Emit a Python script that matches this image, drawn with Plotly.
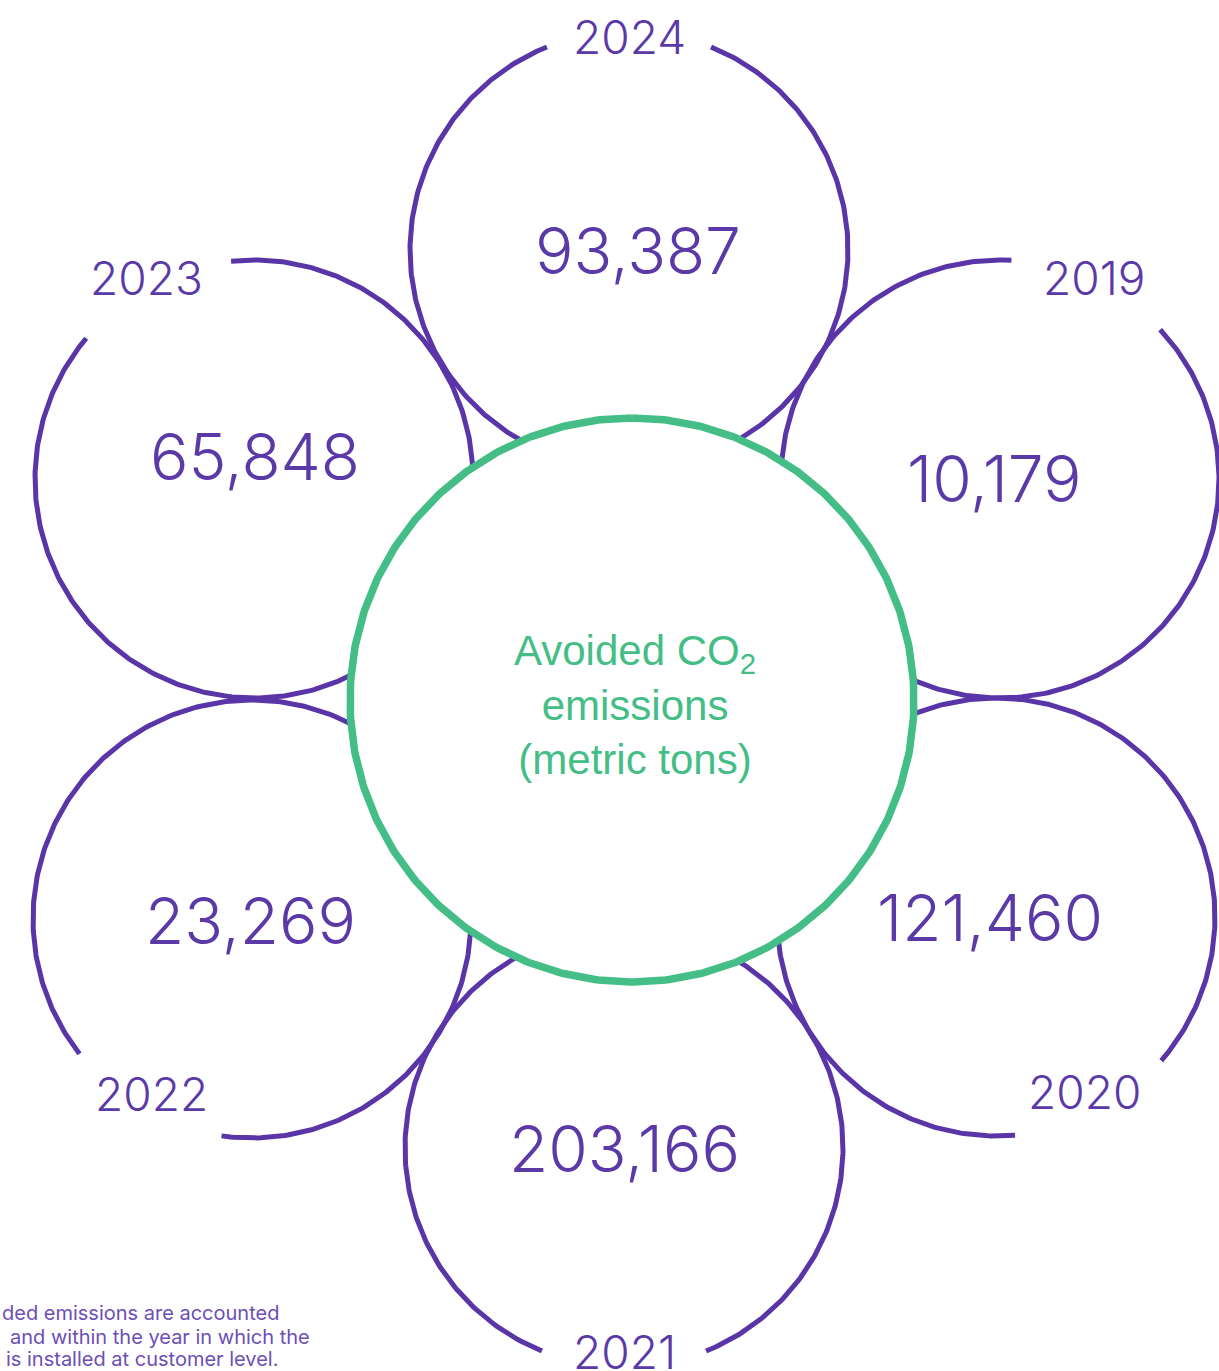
import numpy as np
import plotly.graph_objects as go

# ---------------- data ----------------
years = ["2024", "2019", "2020", "2021", "2022", "2023"]
values = [93387, 10179, 121460, 203166, 23269, 65848]
center_lines = ["Avoided CO<sub>2</sub>", "emissions", "(metric tons)"]
footnote_lines = ["ded emissions are accounted",
                  "and within the year in which the",
                  "is installed at customer level."]

# ---------------- layout geometry / styles ----------------
W, H = 1219, 1371
PURPLE = "#5a35a8"
PURPLE_TXT = "#5b3aa8"
FOOT = "#6c4fb6"
GREEN = "#44be86"

hub = (632, 700)
hub_r = 282
petal_centers = [(629, 250), (1000, 479), (996, 917), (624, 1148), (252, 919), (254, 479)]
value_offsets = [(9, 0), (-6, -1), (-6, 0), (0, 0), (-2, 1), (1, -23)]
petal_r = 219
label_angle = [0, 25, 153, 180, -150, -28]
label_dist = [213, 222, 196, 204, 202, 228]
gap_half = 22
footnote_x = [0, 8, 4]
footnote_y = [1313, 1337, 1359]

fig = go.Figure()

# petals (open circles with a gap for the year label)
for (cx, cy), la in zip(petal_centers, label_angle):
    a = np.radians(np.linspace(la + gap_half, la + 360 - gap_half, 400))
    fig.add_trace(go.Scatter(
        x=cx + petal_r * np.sin(a), y=cy - petal_r * np.cos(a),
        mode="lines", line=dict(color=PURPLE, width=5),
        hoverinfo="skip", showlegend=False))

# hub circle with white fill
t = np.radians(np.linspace(0, 360, 500))
fig.add_trace(go.Scatter(
    x=hub[0] + hub_r * np.sin(t), y=hub[1] - hub_r * np.cos(t),
    mode="lines", fill="toself", fillcolor="white",
    line=dict(color=GREEN, width=7.5),
    hoverinfo="skip", showlegend=False))

ann = []
for yr, v, (cx, cy), (ox, oy), la, ld in zip(years, values, petal_centers, value_offsets,
                                          label_angle, label_dist):
    ann.append(dict(x=cx + ox, y=cy + oy, text=f"{v:,}", showarrow=False,
                    font=dict(family="Inter", size=64, color=PURPLE_TXT, weight=300),
                    xanchor="center", yanchor="middle"))
    r = np.radians(la)
    ann.append(dict(x=cx + ld * np.sin(r), y=cy - ld * np.cos(r), text=yr, showarrow=False,
                    font=dict(family="Inter", size=46, color=PURPLE_TXT, weight=300),
                    xanchor="center", yanchor="middle"))

ann.append(dict(x=hub[0] + 3, y=hub[1] + 5, text="<br>".join(center_lines), showarrow=False,
                font=dict(family="Liberation Sans", size=42, color=GREEN),
                xanchor="center", yanchor="middle", align="center"))

for txt, fx, fy in zip(footnote_lines, footnote_x, footnote_y):
    ann.append(dict(x=fx, y=fy, text=txt, showarrow=False,
                    font=dict(family="Inter", size=20, color=FOOT),
                    xanchor="left", yanchor="middle"))

fig.update_layout(
    width=W, height=H, margin=dict(l=0, r=0, t=0, b=0),
    paper_bgcolor="white", plot_bgcolor="white",
    xaxis=dict(range=[0, W], visible=False, fixedrange=True),
    yaxis=dict(range=[H, 0], visible=False, fixedrange=True),
    annotations=ann,
)
fig.write_html("out.html", config={"displayModeBar": False},
               post_script="document.body.style.margin='0';document.body.style.overflow='hidden';")
